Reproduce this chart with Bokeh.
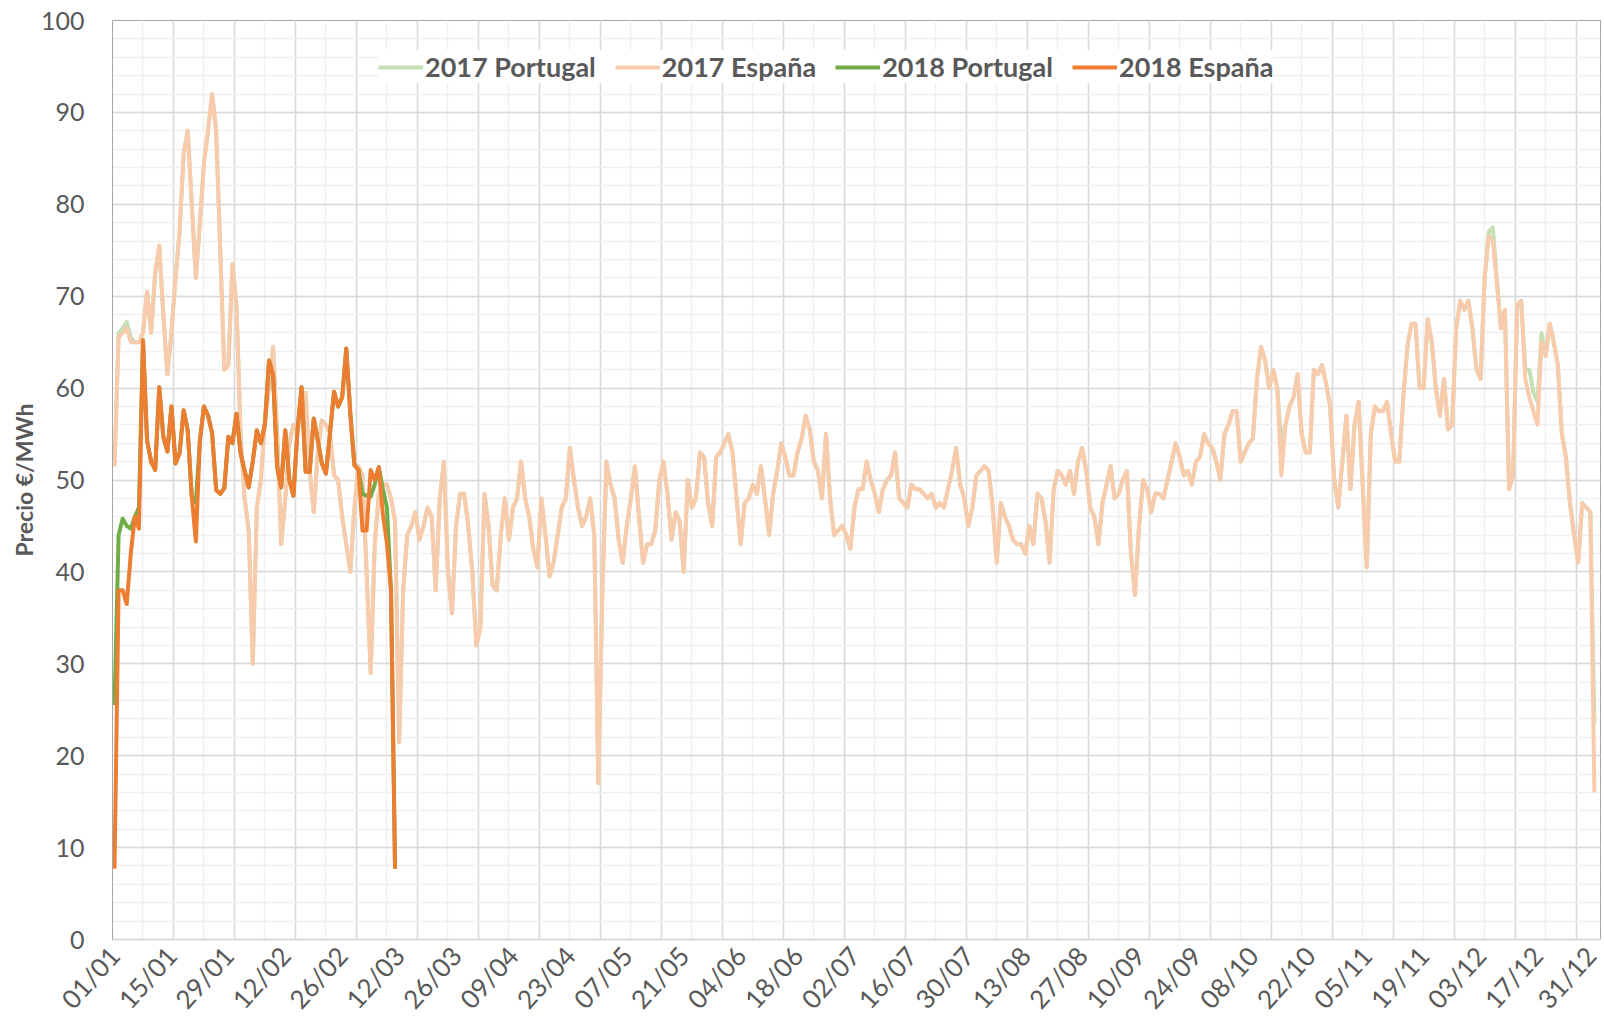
import math
from bokeh.plotting import figure
from bokeh.models import Range1d, FixedTicker, Legend, LegendItem
from bokeh.embed import file_html
from bokeh.resources import INLINE

# ---------------- data ----------------
tick_labels = ["01/01", "15/01", "29/01", "12/02", "26/02", "12/03", "26/03", "09/04",
               "23/04", "07/05", "21/05", "04/06", "18/06", "02/07", "16/07", "30/07",
               "13/08", "27/08", "10/09", "24/09", "08/10", "22/10", "05/11", "19/11",
               "03/12", "17/12", "31/12"]

es_2017 = [
    51.5, 65.5, 66, 66.5, 65, 65, 65, 66, 70.5, 66, 72.5, 75.5, 68, 61.5,
    66, 72, 77, 85.5, 88, 80, 72, 78, 84.5, 88, 92, 88, 75, 62,
    62.5, 73.5, 69, 55, 48, 44.5, 30, 47, 50, 56.5, 60, 64.5, 55, 43,
    48, 54, 56, 55.5, 57.5, 59.5, 51, 46.5, 53, 56.5, 56, 55, 50.5, 50,
    46, 43, 40, 47, 51.5, 50.5, 40, 29, 43, 48.5, 49.5, 49.5, 48, 45.5,
    21.5, 38, 44, 45, 46.5, 43.5, 45, 47, 46, 38, 48, 52, 40, 35.5,
    45, 48.5, 48.5, 45, 40, 32, 34, 48.5, 45, 38.5, 38, 44, 48, 43.5,
    47, 48, 52, 48, 46, 42.5, 40.5, 48, 44, 39.5, 41, 44, 47, 48,
    53.5, 50, 47, 45, 46, 48, 44, 17, 38, 52, 49.5, 48, 43.5, 41,
    45, 48, 51.5, 46, 41, 43, 43, 44.5, 50, 52, 48.5, 43.5, 46.5, 45.5,
    40, 50, 47, 48, 53, 52.5, 47.5, 45, 52.5, 53, 54, 55, 53, 48,
    43, 47.5, 48, 49.5, 48.5, 51.5, 48, 44, 48.5, 51, 54, 52.5, 50.5, 50.5,
    53, 54.5, 57, 55.5, 52, 51, 48, 55, 48, 44, 44.5, 45, 44, 42.5,
    47, 49, 49, 52, 50, 48.5, 46.5, 49, 50, 50.5, 53, 48, 47.5, 47,
    49.5, 49, 49, 48.5, 48, 48.5, 47, 47.5, 47, 49, 51, 53.5, 49.5, 48,
    45, 47, 50.5, 51, 51.5, 51, 47, 41, 47.5, 46, 45, 43.5, 43, 43,
    42, 45, 43, 48.5, 48, 45.5, 41, 49, 51, 50.5, 49.5, 51, 48.5, 52,
    53.5, 51, 47, 46, 43, 47.5, 49.5, 51.5, 48, 48.5, 50, 51, 42, 37.5,
    45, 50, 49, 46.5, 48.5, 48.5, 48, 50, 52, 54, 52.5, 50.5, 51, 49.5,
    52, 52.5, 55, 54, 53.5, 52, 50, 55, 56, 57.5, 57.5, 52, 53, 54,
    54.5, 61, 64.5, 63, 60, 62, 60, 50.5, 56, 58, 59, 61.5, 55, 53,
    53, 62, 61.5, 62.5, 60.5, 58, 50, 47, 52, 57, 49, 56, 58.5, 49.5,
    40.5, 55, 58, 57.5, 57.5, 58.5, 55, 52, 52, 59, 64.5, 67, 67, 60,
    60, 67.5, 65, 60, 57, 61, 55.5, 56, 66.5, 69.5, 68.5, 69.5, 66.5, 62,
    61, 72, 76.5, 76, 71.5, 66.5, 68.5, 49, 50.5, 69, 69.5, 61, 59, 57.5,
    56, 65, 63.5, 67, 65, 62.5, 55, 52.5, 47.5, 44, 41, 47.5, 47, 46.5, 16,
]

pt_2017 = [
    51.5, 66, 66.5, 67.2, 65.5, 65, 65, 66, 70.5, 66, 72.5, 75.5, 68, 61.5,
    66, 72, 77, 85.5, 88, 80, 72, 78, 84.5, 88, 92, 88, 75, 62,
    62.5, 73.5, 69, 55, 48, 44.5, 30, 47, 50, 56.5, 60, 64.5, 55, 43,
    48, 54, 56, 55.5, 57.5, 59.5, 51, 46.5, 53, 56.5, 56, 55, 50.5, 50,
    46, 43, 40, 47, 51.5, 50.5, 40, 29, 43, 48.5, 49.5, 49.5, 48, 45.5,
    21.5, 38, 44, 45, 46.5, 43.5, 45, 47, 46, 38, 48, 52, 40, 35.5,
    45, 48.5, 48.5, 45, 40, 32, 34, 48.5, 45, 38.5, 38, 44, 48, 43.5,
    47, 48, 52, 48, 46, 42.5, 40.5, 48, 44, 39.5, 41, 44, 47, 48,
    53.5, 50, 47, 45, 46, 48, 44, 17, 38, 52, 49.5, 48, 43.5, 41,
    45, 48, 51.5, 46, 41, 43, 43, 44.5, 50, 52, 48.5, 43.5, 46.5, 45.5,
    40, 50, 47, 48, 53, 52.5, 47.5, 45, 52.5, 53, 54, 55, 53, 48,
    43, 47.5, 48, 49.5, 48.5, 51.5, 48, 44, 48.5, 51, 54, 52.5, 50.5, 50.5,
    53, 54.5, 57, 55.5, 52, 51, 48, 55, 48, 44, 44.5, 45, 44, 42.5,
    47, 49, 49, 52, 50, 48.5, 46.5, 49, 50, 50.5, 53, 48, 47.5, 47,
    49.5, 49, 49, 48.5, 48, 48.5, 47, 47.5, 47, 49, 51, 53.5, 49.5, 48,
    45, 47, 50.5, 51, 51.5, 51, 47, 41, 47.5, 46, 45, 43.5, 43, 43,
    42, 45, 43, 48.5, 48, 45.5, 41, 49, 51, 50.5, 49.5, 51, 48.5, 52,
    53.5, 51, 47, 46, 43, 47.5, 49.5, 51.5, 48, 48.5, 50, 51, 42, 37.5,
    45, 50, 49, 46.5, 48.5, 48.5, 48, 50, 52, 54, 52.5, 50.5, 51, 49.5,
    52, 52.5, 55, 54, 53.5, 52, 50, 55, 56, 57.5, 57.5, 52, 53, 54,
    54.5, 61, 64.5, 63, 60, 62, 60, 54, 56, 58, 59, 61.5, 55, 53,
    53, 62, 61.5, 62.5, 60.5, 58, 50, 47, 52, 57, 49, 56, 58.5, 49.5,
    40.5, 55, 58, 57.5, 57.5, 58.5, 55, 52, 52, 59, 64.5, 67, 67, 60,
    60, 67.5, 65, 60, 57, 61, 55.5, 56, 66.5, 69.5, 68.5, 69.5, 66.5, 62,
    61, 72, 77, 77.5, 72, 66.5, 68.5, 49, 50.5, 69, 69.5, 62, 62, 59.5,
    58.5, 66, 63.5, 67, 65, 62.5, 55, 52.5, 47.5, 44, 41, 47.5, 47, 46.5, 23.5,
]

es_2018 = [
    7.7, 38, 38, 36.5, 42, 46, 44.7, 65.2, 54.3, 52,
    51.1, 60.1, 54.7, 53.1, 58, 51.8, 52.9, 57.6, 55.4, 48.2,
    43.3, 54.3, 58, 57, 55.1, 48.9, 48.5, 49.1, 54.7, 54,
    57.2, 52.9, 51, 49.2, 52, 55.4, 54, 56.1, 63, 61.4,
    51.4, 49.2, 55.4, 50, 48.3, 55.4, 60.1, 50.9, 50.9, 56.7,
    54.3, 51.8, 50.7, 55.1, 59.6, 58, 59, 64.3, 57.2, 51.6,
    51.1, 44.5, 44.5, 51.1, 50, 51.4, 46.3, 43.1, 38, 7.7,
]

pt_2018 = [
    25.5, 44, 45.8, 45, 44.7, 46, 47, 65.2, 54.3, 52,
    51.1, 60.1, 54.7, 53.1, 58, 51.8, 52.9, 57.6, 55.4, 48.2,
    47.5, 54.3, 58, 57, 55.1, 48.9, 48.5, 49.1, 54.7, 54,
    57.2, 52.9, 51, 49.2, 52, 55.4, 54, 56.1, 63, 61.4,
    51.4, 49.2, 55.4, 50, 48.3, 55.4, 60.1, 50.9, 50.9, 56.7,
    54.3, 51.8, 50.7, 55.1, 59.6, 58, 59, 64.3, 57.2, 51.6,
    51.1, 48.5, 48.3, 48.2, 49.5, 51.4, 49, 47, 38, 7.7,
]

days_2017 = list(range(len(es_2017)))
days_2018 = list(range(len(es_2018)))
tick_days = [14 * i for i in range(len(tick_labels))]

# ---------------- figure ----------------
FONT = "Lato"
TXT = "#595959"

p = figure(width=1602, height=1031,
           x_range=Range1d(-0.5, 365.5), y_range=Range1d(0, 100),
           output_backend="svg", toolbar_location=None,
           min_border_left=112, min_border_right=2,
           min_border_top=20, min_border_bottom=92)
p.background_fill_color = "white"
p.border_fill_color = "white"
p.outline_line_color = "#A6A6A6"
p.outline_line_width = 1

# grids (major every 15 categories / 10 units, minor halves / 2 units)
xmaj = [15 * k - 0.5 for k in range(1, 25)]
xmin = [7.5 * k - 0.5 for k in range(1, 49)]
p.xgrid.ticker = FixedTicker(ticks=xmaj, minor_ticks=xmin)
p.xgrid.grid_line_color = "#D9D9D9"
p.xgrid.grid_line_width = 1.5
p.xgrid.minor_grid_line_color = "#F0F0F0"
p.xgrid.minor_grid_line_width = 1.5

p.ygrid.ticker = FixedTicker(ticks=list(range(0, 101, 10)), minor_ticks=list(range(0, 101, 2)))
p.ygrid.grid_line_color = "#D9D9D9"
p.ygrid.grid_line_width = 1.5
p.ygrid.minor_grid_line_color = "#F0F0F0"
p.ygrid.minor_grid_line_width = 1.5

# axes
xa = p.xaxis[0]
xa.ticker = FixedTicker(ticks=tick_days)
xa.major_label_overrides = {d: lab for d, lab in zip(tick_days, tick_labels)}
xa.major_label_orientation = math.radians(48)
xa.major_tick_line_color = None
xa.minor_tick_line_color = None
xa.major_tick_out = 0
xa.major_tick_in = 0
xa.minor_tick_out = 0
xa.minor_tick_in = 0
xa.axis_line_color = "#D9D9D9"
xa.axis_line_width = 2
xa.major_label_text_font = FONT
xa.major_label_text_font_size = "26px"
xa.major_label_text_color = TXT
xa.major_label_standoff = 11

ya = p.yaxis[0]
ya.ticker = FixedTicker(ticks=list(range(0, 101, 10)))
ya.major_tick_line_color = None
ya.minor_tick_line_color = None
ya.major_tick_out = 0
ya.major_tick_in = 0
ya.minor_tick_out = 0
ya.minor_tick_in = 0
ya.axis_line_color = "#A6A6A6"
ya.axis_line_width = 1
ya.major_label_text_font = FONT
ya.major_label_text_font_size = "25px"
ya.major_label_text_color = TXT
ya.major_label_standoff = 28
ya.axis_label = "Precio €/MWh"
ya.axis_label_text_font = FONT
ya.axis_label_text_font_style = "bold"
ya.axis_label_text_font_size = "23px"
ya.axis_label_text_color = TXT
ya.axis_label_standoff = 0

# lines
LW = 4
r1 = p.line(days_2017, pt_2017, line_color="#C5E0B4", line_width=LW, line_join="round")
r2 = p.line(days_2017, es_2017, line_color="#F8CBAD", line_width=LW, line_join="round")
r3 = p.line(days_2018, pt_2018, line_color="#70AD47", line_width=LW, line_join="round")
r4 = p.line(days_2018, es_2018, line_color="#ED7D31", line_width=LW, line_join="round")

legend = Legend(items=[
    LegendItem(label="2017 Portugal", renderers=[r1]),
    LegendItem(label="2017 España", renderers=[r2]),
    LegendItem(label="2018 Portugal", renderers=[r3]),
    LegendItem(label="2018 España", renderers=[r4]),
], orientation="horizontal", location=(266, 856),
    label_text_font=FONT, label_text_font_style="bold", label_text_font_size="27px",
    label_text_color=TXT, glyph_width=45, glyph_height=20, label_standoff=2,
    spacing=19, padding=4, margin=0, border_line_color=None,
    background_fill_color="white", background_fill_alpha=1.0)
p.add_layout(legend)

open("out.html", "w").write(file_html(p, INLINE))
